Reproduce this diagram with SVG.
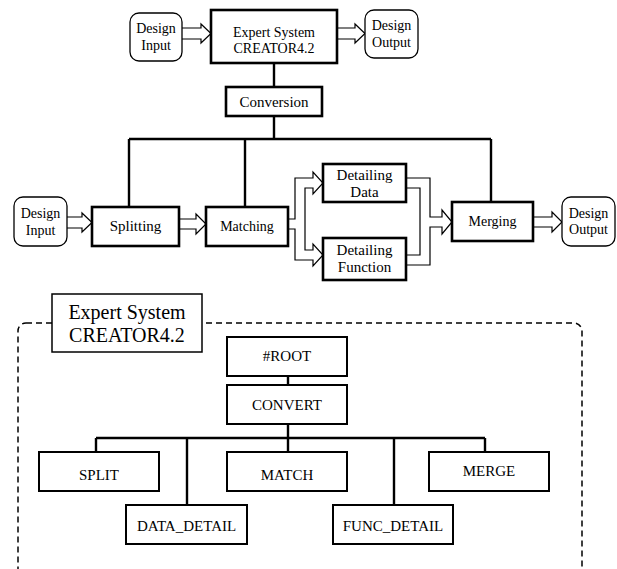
<svg xmlns="http://www.w3.org/2000/svg" width="617" height="569" viewBox="0 0 617 569">
<style>
text{font-family:"Liberation Serif","Times New Roman",serif;fill:#000;text-anchor:middle}
.rb{fill:#fff;stroke:#000;stroke-width:1.3}
.tb{fill:#fff;stroke:#000;stroke-width:2.6}
.nb{fill:#fff;stroke:#000;stroke-width:2}
.ln{stroke:#000;stroke-width:2.4;fill:none}
.ha{fill:none;stroke:#000;stroke-width:1.2}
.t14{font-size:14px}
.t15{font-size:15px}
</style>
<rect width="617" height="569" fill="#fff"/>
<g id="connectors">
<path class="ha" d="M182,28 H201 V24 L211,33.5 L201,43 V39 H182"/>
<path class="ha" d="M337,28 H355 V24 L365,33.5 L355,43 V39 H337"/>
<path class="ln" d="M274,63 V87 M274,116 V139 M129,139 H491 M129,139 V207 M245,139 V207 M491,139 V202"/>
<path class="ha" d="M67,217 H82 V213 L92,222.5 L82,232 V228 H67"/>
<path class="ha" d="M179,219 H196 V214 L206,224 L196,234 V229 H179"/>
<path class="ha" d="M288,219 H295 V178 H313 V172 L323,183 L313,194 V188 H305 V250 H313 V244 L323,255 L313,266 V260 H295 V229 H288"/>
<path class="ha" d="M406,178 H430 V217 H442 V210 L452,222 L442,234 V227 H430 V265 H406"/>
<path class="ha" d="M406,188 H420 V255 H406"/>
<path class="ha" d="M533,217 H552 V212 L562,222 L552,232 V227 H533"/>
<path class="ln" d="M288,376 V385 M288,424 V438 M96,438 H485 M96,438 V452 M187,438 V505 M288,438 V452 M394,438 V505 M485,438 V452"/>
</g>
<g id="frame">
<rect x="18" y="323" width="564" height="255" rx="8" fill="none" stroke="#000" stroke-width="1.5" stroke-dasharray="6 4"/>
</g>
<g id="design-input-top"><rect class="rb" x="130" y="13" width="52" height="48" rx="9"/><text class="t14" x="156" y="33">Design</text><text class="t14" x="156" y="50">Input</text></g>
<g id="expert-top"><rect class="tb" x="211" y="10" width="126" height="53"/><text class="t14" x="274" y="37">Expert System</text><text class="t14" x="274" y="53">CREATOR4.2</text></g>
<g id="design-output-top"><rect class="rb" x="365" y="10" width="53" height="48" rx="9"/><text class="t14" x="391.5" y="30">Design</text><text class="t14" x="391.5" y="47">Output</text></g>
<g id="conversion"><rect class="tb" x="226" y="87" width="96" height="29"/><text class="t15" x="274" y="107">Conversion</text></g>
<g id="design-input-bottom"><rect class="rb" x="14" y="197" width="53" height="49" rx="9"/><text class="t14" x="40.5" y="218">Design</text><text class="t14" x="40.5" y="235">Input</text></g>
<g id="splitting"><rect class="tb" x="92" y="207" width="87" height="39"/><text class="t15" x="135.5" y="231">Splitting</text></g>
<g id="matching"><rect class="tb" x="206" y="207" width="82" height="39"/><text class="t14" x="247" y="231">Matching</text></g>
<g id="detailing-data"><rect class="tb" x="323" y="164" width="83" height="38"/><text class="t15" x="364.5" y="180">Detailing</text><text class="t15" x="364.5" y="197">Data</text></g>
<g id="detailing-function"><rect class="tb" x="323" y="238" width="83" height="42"/><text class="t15" x="364.5" y="255">Detailing</text><text class="t15" x="364.5" y="272">Function</text></g>
<g id="merging"><rect class="tb" x="452" y="202" width="81" height="39"/><text class="t14" x="492.5" y="226">Merging</text></g>
<g id="design-output-bottom"><rect class="rb" x="562" y="197" width="53" height="49" rx="9"/><text class="t14" x="588.5" y="218">Design</text><text class="t14" x="588.5" y="234">Output</text></g>
<g id="label-expert"><rect x="52" y="294" width="150" height="58" fill="#fff" stroke="#000" stroke-width="1.5"/><text x="127" y="319" font-size="20">Expert System</text><text x="127" y="342" font-size="20">CREATOR4.2</text></g>
<g id="root"><rect class="nb" x="227" y="337" width="120" height="39"/><text class="t15" x="287" y="361">#ROOT</text></g>
<g id="convert"><rect class="nb" x="227" y="385" width="120" height="39"/><text class="t15" x="287" y="410">CONVERT</text></g>
<g id="split"><rect class="nb" x="39" y="452" width="120" height="39"/><text class="t15" x="99" y="480">SPLIT</text></g>
<g id="match"><rect class="nb" x="227" y="452" width="120" height="39"/><text class="t15" x="287" y="480">MATCH</text></g>
<g id="merge"><rect class="nb" x="429" y="452" width="120" height="39"/><text class="t15" x="489" y="476">MERGE</text></g>
<g id="data-detail"><rect class="nb" x="126" y="505" width="121" height="39"/><text class="t15" x="186.5" y="531">DATA_DETAIL</text></g>
<g id="func-detail"><rect class="nb" x="333" y="505" width="120" height="39"/><text class="t15" x="393" y="531">FUNC_DETAIL</text></g>
</svg>
